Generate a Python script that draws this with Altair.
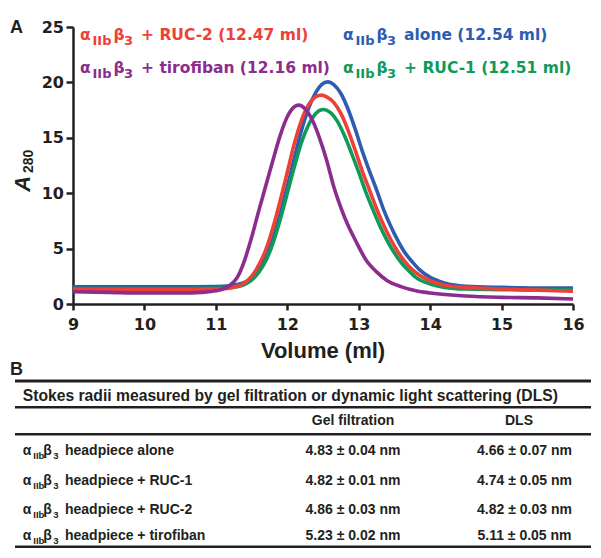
import altair as alt
import pandas as pd

# ---------------- data ----------------
SERIES_NAMES = ["alone", "RUC-1", "RUC-2", "tirofiban"]
SERIES_COLORS = ["#2e5cb0", "#0e9a58", "#ee4036", "#8b2c8e"]
LABEL_REST = ["alone (12.54 ml)", "+ RUC-1 (12.51 ml)", "+ RUC-2 (12.47 ml)", "+ tirofiban (12.16 ml)"]

VOL_ALONE = [9.0, 9.5, 10.0, 10.5, 11.0, 11.2, 11.3, 11.4, 11.5, 11.6, 11.7, 11.8, 11.9, 12.0,
             12.1, 12.2, 12.3, 12.4, 12.5, 12.57, 12.65, 12.75, 12.85, 12.95,
             13.05, 13.15, 13.25, 13.35, 13.45, 13.55, 13.65, 13.75, 13.85,
             14.0, 14.2, 14.5, 15.0, 15.5, 16.0]
A280_ALONE = [1.55, 1.55, 1.55, 1.55, 1.58, 1.65, 1.75, 1.95, 2.35, 3.1, 4.2, 5.9, 8.1, 10.6,
              13.2, 15.7, 17.7, 19.1, 19.9, 20.05, 19.8, 19.0, 17.6, 15.8,
              13.8, 12.0, 10.3, 8.5, 7.0, 5.7, 4.6, 3.8, 3.1,
              2.4, 1.9, 1.6, 1.5, 1.45, 1.45]

VOL_RUC1 = [9.0, 9.5, 10.0, 10.5, 11.0, 11.2, 11.3, 11.4, 11.5, 11.6, 11.7, 11.8, 11.9, 12.0,
            12.1, 12.2, 12.3, 12.4, 12.5, 12.6, 12.7, 12.8, 12.9, 13.0,
            13.1, 13.2, 13.3, 13.4, 13.5, 13.6, 13.7, 13.8,
            14.0, 14.2, 14.5, 15.0, 15.5, 16.0]
A280_RUC1 = [1.4, 1.4, 1.4, 1.4, 1.42, 1.48, 1.55, 1.75, 2.15, 2.85, 3.9, 5.5, 7.6, 10.0,
             12.4, 14.6, 16.2, 17.2, 17.55, 17.3, 16.5, 15.2, 13.6, 11.9,
             10.1, 8.5, 7.0, 5.7, 4.6, 3.7, 3.0, 2.4,
             1.8, 1.5, 1.35, 1.3, 1.25, 1.25]

VOL_RUC2 = [9.0, 9.5, 10.0, 10.5, 11.0, 11.2, 11.3, 11.4, 11.5, 11.6, 11.7, 11.8, 11.9, 12.0,
            12.1, 12.2, 12.3, 12.4, 12.48, 12.55, 12.65, 12.75, 12.85, 12.95,
            13.05, 13.15, 13.25, 13.35, 13.45, 13.55, 13.65, 13.75, 13.85,
            14.0, 14.2, 14.5, 15.0, 15.5, 16.0]
A280_RUC2 = [1.3, 1.3, 1.3, 1.3, 1.35, 1.45, 1.6, 1.9, 2.5, 3.5, 4.9, 6.9, 9.3, 11.9,
             14.5, 16.6, 18.0, 18.7, 18.85, 18.7, 18.2, 17.2, 15.7, 13.9,
             12.0, 10.3, 8.6, 7.1, 5.8, 4.7, 3.8, 3.1, 2.6,
             2.1, 1.7, 1.5, 1.35, 1.25, 1.15]

VOL_TIRO = [9.0, 9.5, 10.0, 10.5, 10.8, 11.0, 11.1,
            11.2, 11.3, 11.4, 11.5, 11.6, 11.7, 11.8, 11.9, 12.0, 12.1,
            12.16, 12.25, 12.35, 12.45, 12.55, 12.65, 12.75, 12.85, 12.95,
            13.1, 13.25, 13.4, 13.6, 13.8, 14.0,
            14.5, 15.0, 15.5, 16.0]
A280_TIRO = [1.1, 1.05, 1.0, 1.0, 1.05, 1.2, 1.35,
             1.7, 2.4, 3.9, 6.0, 8.4, 10.7, 13.0, 15.2, 16.9, 17.8,
             17.95, 17.6, 16.6, 15.0, 13.0, 10.6, 8.7, 7.1, 5.8,
             4.0, 2.9, 2.1, 1.55, 1.2, 1.0,
             0.72, 0.6, 0.55, 0.45]

X_TICKS = [9, 10, 11, 12, 13, 14, 15, 16]
Y_TICKS = [0, 5, 10, 15, 20, 25]

TABLE_TITLE = "Stokes radii measured by gel filtration or dynamic light scattering (DLS)"
TABLE_HEADERS = ["Gel filtration", "DLS"]
ROW_NAMES = ["headpiece alone", "headpiece + RUC-1", "headpiece + RUC-2", "headpiece + tirofiban"]
GEL_VALUES = ["4.83 ± 0.04 nm", "4.82 ± 0.01 nm", "4.86 ± 0.03 nm", "5.23 ± 0.02 nm"]
DLS_VALUES = ["4.66 ± 0.07 nm", "4.74 ± 0.05 nm", "4.82 ± 0.03 nm", "5.11 ± 0.05 nm"]

# ---------------- layout / style ----------------
W, H = 500, 277
INK = "#231f20"
LAB_FONT = "DejaVu Sans"
TAB_FONT = "Liberation Sans"

# curve label anchors (pixel, relative to plot origin): order matches SERIES_NAMES
LABEL_POS = [(270, 13), (270, 46.3), (7, 13), (7, 46.3)]
LABEL_OFFS = [0, 12.5, 33.5, 44, 61]     # alpha, IIb, beta, 3, rest
ROW_OFFS = [0, 10.6, 20.6, 30.6, 42.3]
ROW_BASE = [428, 458, 487, 513]


def txt(s, x, y, size, color=INK, font=TAB_FONT, align="left",
        baseline="alphabetic", angle=None, style=None):
    kw = dict(align=align, baseline=baseline, font=font, fontSize=size,
              fontWeight="bold", color=color)
    if angle is not None:
        kw["angle"] = angle
    if style:
        kw["fontStyle"] = style
    return alt.Chart(pd.DataFrame({"t": [s]})).mark_text(**kw).encode(
        x=alt.value(x), y=alt.value(y), text="t:N")


def rich(rest, x, y, color, font, size, subsize, subdy, offs):
    parts = [("α", False), ("IIb", True), ("β", False), ("3", True), (rest, False)]
    out = []
    for (s, sub), o in zip(parts, offs):
        out.append(txt(s, x + o, y + (subdy if sub else 0),
                       subsize if sub else size, color=color, font=font))
    return out


def rule(x1, x2, y, w):
    return alt.Chart(pd.DataFrame({"k": [0]})).mark_rule(
        color=INK, strokeWidth=w).encode(
        x=alt.value(x1), x2=alt.value(x2), y=alt.value(y))


x_axis = alt.Axis(values=X_TICKS, title=None, format="d", grid=False,
                  tickSize=6, labelPadding=6, labelFlush=False, labelOverlap=False,
                  domainWidth=2.5, tickWidth=2.5, domainColor=INK, tickColor=INK,
                  labelFont=LAB_FONT, labelFontSize=16, labelFontWeight="bold",
                  labelColor=INK)
y_axis = alt.Axis(values=Y_TICKS, title=None, format="d", grid=False,
                  tickSize=7, labelPadding=2.5, labelFlush=False, labelOverlap=False,
                  domainWidth=2.5, tickWidth=2.5, domainColor=INK, tickColor=INK,
                  labelFont=LAB_FONT, labelFontSize=16, labelFontWeight="bold",
                  labelColor=INK)

series_data = [(VOL_ALONE, A280_ALONE), (VOL_RUC1, A280_RUC1),
               (VOL_RUC2, A280_RUC2), (VOL_TIRO, A280_TIRO)]

layers = []
for name, (vols, vals), col in zip(SERIES_NAMES, series_data, SERIES_COLORS):
    df = pd.DataFrame({"volume": vols, "a280": vals, "series": name})
    layers.append(
        alt.Chart(df).mark_line(color=col, strokeWidth=3.6, interpolate="monotone",
                                strokeJoin="round").encode(
            x=alt.X("volume:Q", scale=alt.Scale(domain=[9, 16], nice=False, zero=False),
                    axis=x_axis),
            y=alt.Y("a280:Q", scale=alt.Scale(domain=[0, 25], nice=False), axis=y_axis),
        )
    )

# curve labels
for rest, (lx, ly), col in zip(LABEL_REST, LABEL_POS, SERIES_COLORS):
    layers += rich(rest, lx, ly, col, LAB_FONT, 15.5, 13, 5, LABEL_OFFS)

# axis titles and panel letters
layers.append(txt("A", -43, 164.7, 22, style="italic", angle=270))
layers.append(txt("280", -40, 146, 14, angle=270))
layers.append(txt("Volume (ml)", W / 2, 331, 22, align="center"))
layers.append(txt("A", -63, 6.3, 18))
layers.append(txt("B", -63, 348, 18))

# table
layers.append(rule(-58, 518, 354, 3))
layers.append(txt(TABLE_TITLE, -50.3, 374, 15.7))
layers.append(rule(-58, 518, 380.3, 2.5))
layers.append(txt(TABLE_HEADERS[0], 280, 398, 14, align="center"))
layers.append(txt(TABLE_HEADERS[1], 446, 398, 14, align="center"))
layers.append(rule(-58, 518, 407.3, 2.5))
for name, gel, dls, yb in zip(ROW_NAMES, GEL_VALUES, DLS_VALUES, ROW_BASE):
    layers += rich(name, -50.3, yb, INK, TAB_FONT, 14, 9.5, 3.5, ROW_OFFS)
    layers.append(txt(gel, 280, yb, 14, align="center"))
    layers.append(txt(dls, 451.5, yb, 14, align="center"))
layers.append(rule(-58, 518, 520, 3))

chart = alt.layer(*layers).properties(
    width=W, height=H,
    padding={"left": 65, "top": 19, "right": 20, "bottom": 244},
    autosize=alt.AutoSizeParams(type="none"),
).configure_view(stroke=None)

chart.save("out.html", embed_options={"renderer": "svg", "actions": False})
